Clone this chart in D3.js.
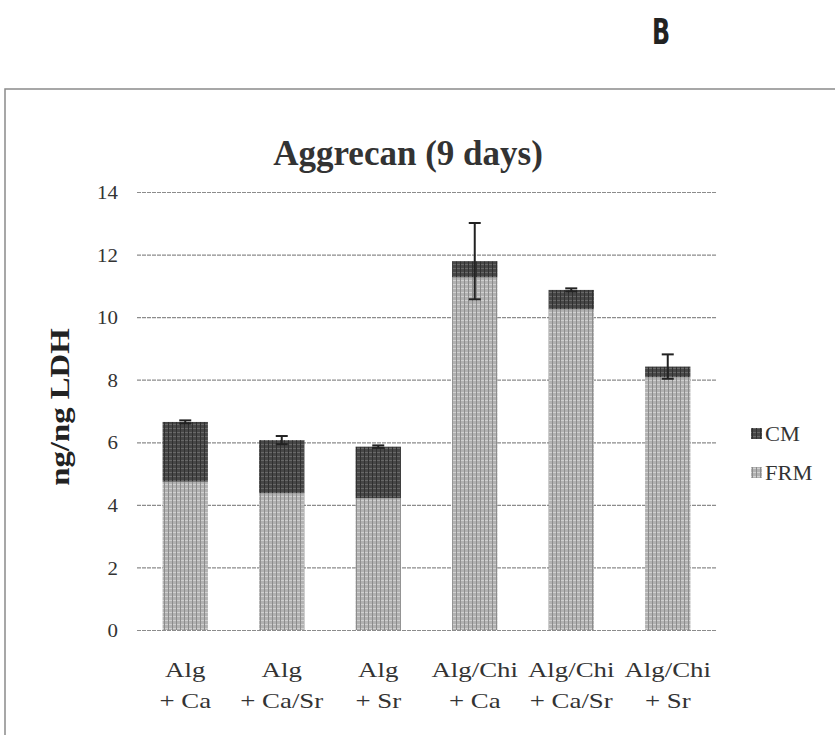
<!DOCTYPE html>
<html><head><meta charset="utf-8">
<script src="https://cdn.jsdelivr.net/npm/d3@7"></script>
<style>body{margin:0;background:#fff}svg{display:block}</style>
</head><body>
<svg id="c" width="835" height="735"></svg>
<script>
const catLine1 = ["Alg","Alg","Alg","Alg/Chi","Alg/Chi","Alg/Chi"];
const catLine2 = ["+ Ca","+ Ca/Sr","+ Sr","+ Ca","+ Ca/Sr","+ Sr"];
const seriesNames = ["CM","FRM"];
const frmValues = [4.74, 4.37, 4.21, 11.27, 10.25, 8.08];
const cmValues  = [1.91, 1.70, 1.65, 0.52, 0.62, 0.34];
const errValues = [0.05, 0.13, 0.04, 1.22, 0.05, 0.39];
const yTicks = [0,2,4,6,8,10,12,14];

(function(){
const svg = d3.select("#c");
const serif = "'Liberation Serif', 'DejaVu Serif', serif";
const pLeft = 137, pRight = 716, pTop = 192, pBottom = 630;

// stretch text horizontally (scanned original looks widened)
function stretch(sel, f){
  sel.each(function(){
    const len = this.getComputedTextLength();
    d3.select(this).attr("textLength", len*f).attr("lengthAdjust","spacingAndGlyphs");
  });
}

// patterns
const defs = svg.append("defs");
function pat(id, base, lineLight, lineDark){
  const p = defs.append("pattern").attr("id",id).attr("patternUnits","userSpaceOnUse").attr("width",4).attr("height",4);
  p.append("rect").attr("width",4).attr("height",4).attr("fill",base);
  p.append("rect").attr("x",0).attr("y",0).attr("width",4).attr("height",1).attr("fill",lineLight);
  p.append("rect").attr("x",0).attr("y",0).attr("width",1).attr("height",4).attr("fill",lineDark);
}
pat("pFRM","#b2b2b2","#d0d0d0","#8c8c8c");
pat("pCM","#474747","#686868","#303030");

// frame
svg.append("rect").attr("x",5).attr("y",89).attr("width",840).attr("height",660)
  .attr("fill","none").attr("stroke","#8a8a8a").attr("stroke-width",1.5);

// panel letter
svg.append("text").attr("transform","translate(661,44) scale(0.68,1)").attr("text-anchor","middle")
  .style("font-family","'DejaVu Sans',sans-serif")
  .style("font-weight","bold").style("font-size","35px")
  .attr("fill","#222").text("B");

const x = d3.scaleBand().domain(d3.range(catLine1.length)).range([pLeft,pRight]).paddingInner(0.53).paddingOuter(0.265);
const y = d3.scaleLinear().domain([0,14]).range([pBottom,pTop]);

// gridlines
const grid = svg.append("g").attr("transform",`translate(${pLeft},0)`)
  .call(d3.axisLeft(y).tickValues(yTicks).tickSize(-(pRight-pLeft)).tickFormat(""));
grid.select(".domain").remove();
grid.selectAll("line").attr("stroke","#8c8c8c").attr("stroke-width",1.2).attr("stroke-dasharray","4,1");

// y tick labels
const ya = svg.append("g").attr("transform",`translate(${pLeft-19},0)`)
  .call(d3.axisLeft(y).tickValues(yTicks).tickSize(0).tickPadding(0));
ya.select(".domain").remove();
ya.attr("font-family",null);
ya.selectAll("text").style("font-family",serif).style("font-size","19px").attr("fill","#333").attr("dy","0.35em");
stretch(ya.selectAll("text"), 1.1);

// bars
const stackData = frmValues.map((f,i)=>({i, FRM:f, CM:cmValues[i]}));
const stack = d3.stack().keys(["FRM","CM"])(stackData);
const fills = {FRM:"url(#pFRM)", CM:"url(#pCM)"};
stack.forEach(layer=>{
  svg.append("g").selectAll("rect").data(layer).join("rect")
    .attr("x",d=>x(d.data.i)).attr("width",x.bandwidth())
    .attr("y",d=>y(d[1])).attr("height",d=>y(d[0])-y(d[1]))
    .attr("fill",fills[layer.key]);
});

// error bars
const eb = svg.append("g").attr("stroke","#222").attr("stroke-width",2);
stackData.forEach(d=>{
  const total = d.FRM + d.CM, cx = x(d.i)+x.bandwidth()/2, e = errValues[d.i];
  eb.append("line").attr("x1",cx).attr("x2",cx).attr("y1",y(total+e)).attr("y2",y(total-e));
  eb.append("line").attr("x1",cx-6).attr("x2",cx+6).attr("y1",y(total+e)).attr("y2",y(total+e));
  eb.append("line").attr("x1",cx-6).attr("x2",cx+6).attr("y1",y(total-e)).attr("y2",y(total-e));
});

// x labels
const xl = svg.append("g").attr("text-anchor","middle");
catLine1.forEach((t,i)=>{
  const cx = x(i)+x.bandwidth()/2;
  [[t,677],[catLine2[i],708]].forEach(([s,yy])=>{
    xl.append("text").attr("x",cx).attr("y",yy)
      .style("font-family",serif).style("font-size","22px").attr("fill","#333").text(s);
  });
});
stretch(xl.selectAll("text"), 1.22);

// title
svg.append("text").attr("x",408).attr("y",165).attr("text-anchor","middle")
  .style("font-family",serif).style("font-weight","bold").style("font-size","35px").attr("fill","#333")
  .text("Aggrecan (9 days)");

// y label
const yl = svg.append("text").attr("transform","translate(69,407) rotate(-90)").attr("text-anchor","middle")
  .style("font-family",serif).style("font-weight","bold").style("font-size","28px").attr("fill","#222")
  .text("ng/ng LDH");
stretch(yl, 1.17);

// legend
const lg = svg.append("g");
const lgY = d3.scalePoint().domain(seriesNames).range([434,473]);
seriesNames.forEach(s=>{
  lg.append("rect").attr("x",751).attr("y",lgY(s)-6).attr("width",11).attr("height",11).attr("fill",fills[s]);
  lg.append("text").attr("x",765).attr("y",lgY(s)+7)
    .style("font-family",serif).style("font-size","20px").attr("fill","#333").text(s);
});
stretch(lg.selectAll("text"), 1.12);
})();
</script>
</body></html>
